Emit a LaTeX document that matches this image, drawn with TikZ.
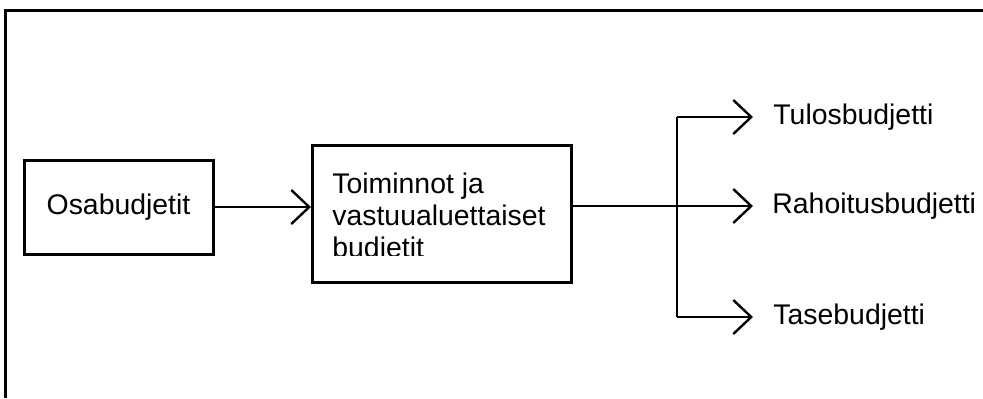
\documentclass[tikz,border=0pt]{standalone}
\usepackage{fontspec}
\setmainfont{Liberation Sans}
\usepackage{tikz}
\usetikzlibrary{arrows.meta, positioning, calc}

\begin{document}
\begin{tikzpicture}[x=0.5pt, y=-0.5pt,
    box/.style={rectangle, draw=black, line width=1.5pt, inner sep=0pt},
    lbl/.style={anchor=west, inner sep=0pt, font=\fontsize{14.2}{15.5}\selectfont},
    arr/.style={-{Straight Barb[length=9pt, width=17pt]}, line width=1.2pt, line join=miter}
]
\useasboundingbox (0,0) rectangle (983,398);
\draw[line width=1.5pt] (5.5,398) -- (5.5,10.5) -- (983,10.5);

\node[box, minimum width=94.5pt, minimum height=47pt, font=\fontsize{14.2}{15.5}\selectfont] (osa) at (118.5,207) {Osabudjetit};
\node[box, minimum width=129.5pt, minimum height=68.5pt] (mid) at (442,213.5) {};
\begin{scope}
    \clip (313,145) rectangle (571,255.5);
    \node[anchor=north west, inner sep=0pt, align=left, font=\fontsize{14.2}{15.9}\selectfont] (midtxt) at (332,173)
        {Toiminnot ja\\vastuualuettaiset\\budietit};
\end{scope}

\node[lbl] (tulos) at (773,117) {Tulosbudjetti};
\node[lbl] (rahoitus) at (772,206) {Rahoitusbudjetti};
\node[lbl] (tase) at (773,317) {Tasebudjetti};

\coordinate (forktop) at (677,117);
\coordinate (forkbot) at (677,317);

\draw[arr] (osa.east) -- (osa.east -| mid.west);
\draw[arr, shorten >=9.5pt] (rahoitus.west -| mid.east) -- (rahoitus.west);
\draw[line width=1.2pt] (forktop) -- (forkbot);
\foreach \f/\t in {forktop/tulos, forkbot/tase}
    \draw[arr, shorten >=10pt] (\f) -- (\t.west);
\end{tikzpicture}
\end{document}
